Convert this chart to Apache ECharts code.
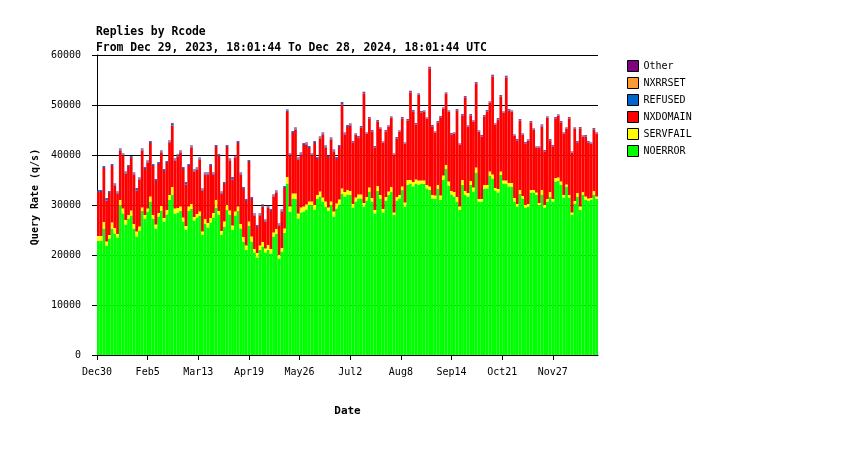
<!DOCTYPE html>
<html>
<head>
<meta charset="utf-8">
<script src="https://cdn.jsdelivr.net/npm/echarts@6/dist/echarts.min.js"></script>
<style>
html, body { margin: 0; padding: 0; background: #fff; }
#chart { width: 850px; height: 450px; }
</style>
</head>
<body>
<div id="chart"></div>
<script>
// x is days since Dec 30, 2023; every value covers a 2-day bin
const binDays = 2;
const endDay = 366;
const tickDays = [0, 37, 74, 111, 148, 185, 222, 259, 296, 333];
const tickLabels = ['Dec30', 'Feb5', 'Mar13', 'Apr19', 'May26', 'Jul2', 'Aug8', 'Sep14', 'Oct21', 'Nov27'];

const noerror = [
  22800, 22800, 25300, 21900, 23300, 25300, 24300, 23500, 29900, 28300,
  26100, 27200, 27900, 25300, 23700, 24800, 28800, 27200, 28700, 30700,
  27200, 25300, 27700, 28900, 26700, 28100, 31000, 32100, 28300, 28500,
  28800, 26700, 25100, 28800, 29200, 26900, 27500, 27900, 24000, 26300,
  25500, 26500, 27500, 29500, 28100, 24000, 25700, 29000, 28100, 25000,
  27900, 28800, 25300, 22700, 21000, 25900, 22700, 20500, 19500, 21000,
  21700, 20500, 21000, 20300, 23700, 24300, 19300, 20700, 24400, 34300,
  28700, 31300, 31200, 27300, 28500, 28700, 29100, 30000, 29900, 29000,
  31200, 31700, 30700, 29700, 28800, 30000, 27700, 29300, 30100, 32300,
  31700, 32100, 32000, 29500, 30700, 31300, 31300, 29700, 30900, 32700,
  30700, 28300, 32800, 31200, 28500, 30900, 32000, 32700, 28000, 30900,
  31300, 33000, 29700, 34000, 34300, 33700, 34300, 34000, 34300, 34200,
  33300, 33000, 31300, 31200, 33300, 31000, 35000, 37300, 33900, 32100,
  31700, 30700, 29000, 34000, 32000, 31700, 34000, 32700, 36500, 30700,
  30700, 33300, 33300, 35900, 35300, 32900, 32500, 36000, 34300, 34300,
  33700, 33700, 30700, 29700, 32200, 31300, 29500, 29700, 32500, 32500,
  32000, 29900, 32100, 29500, 30700, 31700, 30700, 34700, 34800, 34000,
  31500, 33700, 31500, 28000, 30300, 31700, 29000, 32100, 31000, 30800,
  31100, 32100, 31200
];
const servfail = [
  1000, 1000, 1300, 800, 700, 1200, 1100, 700, 1100, 1000,
  900, 800, 1000, 900, 1000, 900, 700, 800, 600, 1000,
  800, 800, 700, 900, 700, 900, 1000, 1500, 1000, 900,
  900, 800, 700, 900, 1000, 700, 700, 800, 700, 900,
  900, 900, 900, 1500, 700, 800, 1000, 1000, 800, 900,
  800, 900, 900, 900, 900, 800, 1000, 700, 900, 900,
  900, 800, 1000, 900, 800, 900, 700, 700, 900, 1300,
  1000, 1000, 1100, 1000, 1000, 1000, 1000, 700, 800, 1000,
  800, 1000, 800, 1000, 700, 700, 1000, 1000, 1000, 1000,
  900, 900, 800, 700, 800, 800, 800, 700, 700, 800,
  700, 700, 1000, 800, 700, 700, 700, 900, 500, 700,
  700, 700, 800, 1000, 700, 900, 800, 900, 600, 700,
  700, 700, 700, 700, 700, 900, 900, 700, 800, 700,
  900, 900, 700, 1000, 800, 700, 800, 800, 1000, 500,
  500, 700, 700, 800, 800, 500, 700, 700, 600, 600,
  700, 700, 700, 500, 800, 500, 500, 500, 500, 500,
  500, 500, 900, 500, 500, 900, 500, 700, 700, 700,
  500, 400, 500, 500, 500, 700, 700, 500, 700, 500,
  300, 700, 500
];
const nxdomain = [
  8800, 8800, 10800, 8200, 8400, 11300, 8500, 8100, 9900, 10600,
  9300, 9600, 10500, 9900, 8200, 9400, 11400, 9200, 9200, 10700,
  9800, 8700, 9800, 10700, 9400, 9400, 10500, 12300, 9600, 10300,
  10800, 9700, 8300, 8100, 11300, 9100, 8900, 10400, 8200, 8900,
  9700, 10400, 7700, 10600, 11000, 7500, 7500, 11600, 10000, 9200,
  10800, 12700, 9900, 9600, 8900, 11900, 7500, 6700, 5200, 6000,
  7100, 5400, 7500, 7600, 7200, 7300, 5900, 7300, 8100, 13000,
  10200, 12100, 12800, 10800, 10600, 12300, 12000, 10700, 9200, 12400,
  7200, 10600, 12600, 10800, 10100, 12400, 12000, 8900, 10500, 16800,
  11500, 12600, 13100, 12300, 12500, 11400, 13400, 21900, 12600, 13800,
  13300, 12500, 12900, 13200, 13200, 13100, 12900, 13800, 11500, 11700,
  12600, 13600, 11700, 11900, 17500, 14100, 11000, 17100, 13600, 13700,
  13200, 23600, 13700, 12500, 12500, 15600, 13300, 14200, 13900, 11300,
  11600, 17300, 12300, 12900, 18700, 13200, 13100, 13100, 16800, 13400,
  12500, 13700, 14700, 13700, 19600, 12600, 13900, 15000, 13500, 20600,
  14500, 14200, 12400, 12700, 13900, 12200, 12300, 12600, 13500, 12000,
  8900, 11000, 12700, 10700, 16200, 10300, 10500, 11900, 12300, 11800,
  12200, 11100, 15300, 11900, 14400, 10100, 15600, 11000, 12000, 11200,
  10800, 12300, 12500
];
const refused = [
  200, 200, 200, 300, 200, 200, 200, 200, 200, 200,
  200, 200, 200, 200, 300, 200, 200, 200, 200, 200,
  200, 200, 200, 200, 200, 200, 200, 300, 200, 200,
  200, 200, 300, 200, 200, 200, 200, 200, 200, 200,
  200, 200, 200, 200, 200, 200, 200, 200, 200, 300,
  200, 200, 200, 200, 200, 200, 200, 200, 200, 200,
  200, 200, 200, 200, 200, 200, 200, 200, 200, 300,
  200, 200, 200, 200, 200, 200, 200, 200, 200, 200,
  200, 200, 200, 200, 200, 200, 200, 200, 200, 300,
  200, 200, 200, 100, 100, 100, 100, 100, 100, 100,
  100, 100, 100, 100, 100, 100, 100, 100, 100, 100,
  100, 100, 100, 100, 100, 100, 100, 100, 100, 100,
  100, 100, 100, 100, 100, 100, 100, 100, 100, 100,
  100, 100, 100, 100, 100, 100, 100, 100, 100, 100,
  100, 100, 100, 100, 100, 100, 100, 100, 100, 100,
  100, 100, 100, 100, 100, 100, 100, 100, 100, 100,
  100, 100, 200, 100, 100, 100, 100, 100, 100, 100,
  100, 100, 100, 100, 100, 100, 100, 100, 100, 100,
  100, 100, 100
];
const nxrrset = [
  50, 50, 50, 50, 50, 50, 50, 50, 50, 50,
  50, 50, 50, 50, 50, 50, 50, 50, 50, 50,
  50, 50, 50, 50, 50, 50, 50, 50, 50, 50,
  50, 50, 50, 50, 50, 50, 50, 50, 50, 50,
  50, 50, 50, 50, 50, 50, 50, 50, 50, 50,
  50, 50, 50, 50, 50, 50, 50, 50, 50, 50,
  50, 50, 50, 50, 50, 50, 50, 50, 50, 50,
  50, 50, 50, 50, 50, 50, 50, 50, 50, 50,
  50, 50, 50, 50, 50, 50, 50, 50, 50, 50,
  50, 50, 50, 50, 50, 50, 50, 50, 50, 50,
  50, 50, 50, 50, 50, 50, 50, 50, 50, 50,
  50, 50, 50, 50, 50, 50, 50, 50, 50, 50,
  50, 50, 50, 50, 50, 50, 50, 50, 50, 50,
  50, 50, 50, 50, 50, 50, 50, 50, 50, 50,
  50, 50, 50, 50, 50, 50, 50, 50, 50, 50,
  50, 50, 50, 50, 50, 50, 50, 50, 50, 50,
  50, 50, 50, 50, 50, 50, 50, 50, 50, 50,
  50, 50, 50, 50, 50, 50, 50, 50, 50, 50,
  50, 50, 50
];
const other = [
  150, 150, 150, 150, 150, 150, 150, 150, 150, 150,
  150, 150, 150, 150, 150, 150, 150, 150, 150, 150,
  150, 150, 150, 150, 150, 150, 150, 150, 150, 150,
  150, 150, 150, 150, 150, 150, 150, 150, 150, 150,
  150, 150, 150, 150, 150, 150, 150, 150, 150, 150,
  150, 150, 150, 150, 150, 150, 150, 150, 150, 150,
  150, 150, 150, 150, 150, 150, 150, 150, 150, 150,
  150, 150, 150, 150, 150, 150, 150, 150, 150, 150,
  150, 150, 150, 150, 150, 150, 150, 150, 150, 150,
  150, 150, 150, 150, 150, 150, 150, 200, 150, 150,
  150, 150, 150, 150, 150, 150, 150, 150, 150, 150,
  150, 150, 150, 150, 200, 150, 150, 150, 150, 150,
  150, 200, 150, 150, 150, 150, 150, 150, 150, 150,
  150, 150, 150, 150, 150, 150, 150, 150, 150, 150,
  150, 150, 150, 150, 200, 150, 150, 150, 150, 200,
  150, 150, 150, 150, 150, 150, 150, 150, 150, 150,
  150, 150, 150, 150, 150, 150, 150, 150, 150, 150,
  150, 150, 150, 150, 150, 150, 150, 150, 150, 150,
  150, 150, 150
];

const seriesNames = ['NOERROR', 'SERVFAIL', 'NXDOMAIN', 'REFUSED', 'NXRRSET', 'Other'];
const seriesColors = ['#00ff00', '#ffff00', '#ff0000', '#0066cc', '#ff9933', '#800080'];
const seriesValues = [noerror, servfail, nxdomain, refused, nxrrset, other];

// bin start day for each value (category axis)
const binStarts = noerror.map((v, i) => i * binDays);

const mono = 'DejaVu Sans Mono';

var myChart = echarts.init(document.getElementById('chart'));

option = {
    animation: false,
    backgroundColor: '#fff',
    title: {
        text: 'Replies by Rcode\nFrom Dec 29, 2023, 18:01:44 To Dec 28, 2024, 18:01:44 UTC',
        left: 96,
        top: 24,
        padding: 0,
        textStyle: {
            fontFamily: mono,
            fontSize: 11.4,
            fontWeight: 'bold',
            color: '#000',
            lineHeight: 16
        }
    },
    legend: {
        orient: 'vertical',
        left: 627,
        top: 60,
        padding: 0,
        icon: 'rect',
        itemWidth: 11,
        itemHeight: 11,
        itemGap: 5,
        itemTextGap: 10,
        data: seriesNames.slice().reverse(),
        itemStyle: { borderColor: '#000', borderWidth: 1 },
        textStyle: { fontFamily: mono, fontSize: 10, color: '#000', lineHeight: 12 }
    },
    grid: {
        left: 97,
        right: 252,
        top: 55,
        bottom: 95
    },
    xAxis: [
        {
            // bars: one category per 2-day bin
            type: 'category',
            data: binStarts,
            boundaryGap: true,
            axisLine: { show: false },
            axisTick: { show: false },
            axisLabel: { show: false },
            splitLine: { show: false }
        },
        {
            // date scale for ticks and labels
            type: 'value',
            position: 'bottom',
            min: 0,
            max: endDay,
            name: 'Date',
            nameLocation: 'middle',
            nameGap: 51,
            nameTextStyle: { fontFamily: mono, fontSize: 11, fontWeight: 'bold', color: '#000' },
            axisLine: { show: true, lineStyle: { color: '#000', width: 1 } },
            axisTick: { show: true, length: 5, customValues: tickDays, lineStyle: { color: '#000' } },
            axisLabel: {
                customValues: tickDays,
                margin: 12,
                fontFamily: mono,
                fontSize: 10,
                color: '#000',
                formatter: function (val) {
                    let k = tickDays.indexOf(Math.round(val));
                    return k >= 0 ? tickLabels[k] : '';
                }
            },
            splitLine: { show: false }
        }
    ],
    yAxis: {
        type: 'value',
        min: 0,
        max: 60000,
        interval: 10000,
        name: 'Query Rate (q/s)',
        nameLocation: 'middle',
        nameGap: 55,
        nameTextStyle: {
            fontFamily: mono,
            fontSize: 10,
            fontWeight: 'bold',
            color: '#000',
            padding: [0, 0, 0, 16]
        },
        axisLine: { show: true, lineStyle: { color: '#000', width: 1 } },
        axisTick: { show: true, length: 5, lineStyle: { color: '#000' } },
        axisLabel: {
            margin: 16,
            fontFamily: mono,
            fontSize: 10,
            color: '#000',
            formatter: function (v) { return String(v); }
        },
        splitLine: { show: true, lineStyle: { color: '#000', width: 1 } }
    },
    series: seriesNames.map((name, i) => ({
        name: name,
        type: 'bar',
        stack: 'rcode',
        xAxisIndex: 0,
        barCategoryGap: '0%',
        barWidth: '100%',
        color: seriesColors[i],
        itemStyle: { color: seriesColors[i] },
        data: seriesValues[i]
    }))
};
myChart.setOption(option);
</script>
</body>
</html>
